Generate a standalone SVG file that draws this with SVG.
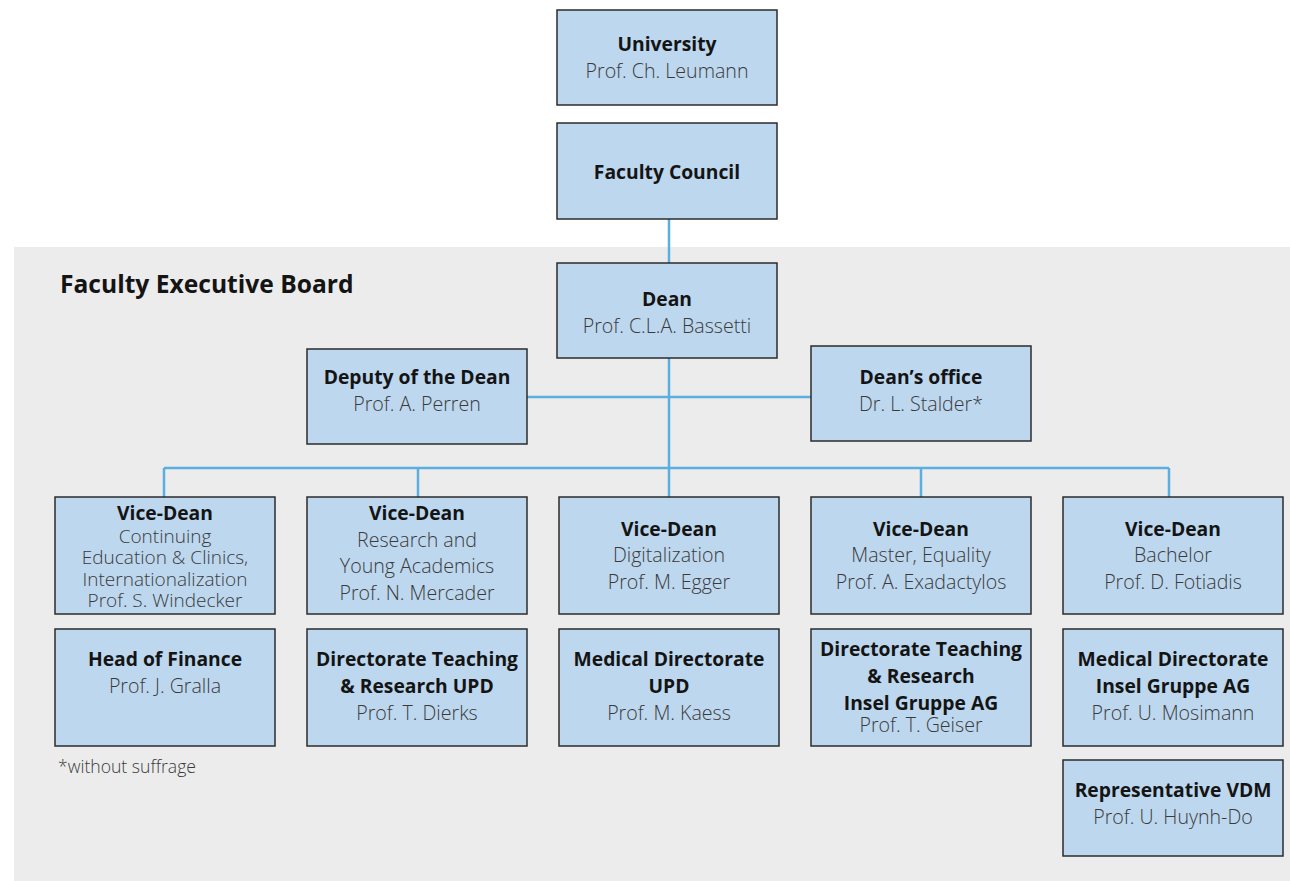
<svg xmlns="http://www.w3.org/2000/svg" width="1290" height="881" viewBox="0 0 1290 881">
<style>
.bg{fill:#ececec}
.box{fill:#bdd7ee;stroke:#2b2b2b;stroke-width:1.5}
.con{stroke:#5aaee0;stroke-width:2.5;fill:none}
text{font-family:"Open Sans","Liberation Sans",sans-serif;text-anchor:middle}
.b{font-size:19.3px;font-weight:700;fill:#141414}
.r{font-size:19.6px;font-weight:300;fill:#3a3a3a}
.t{font-size:19px}
.title{font-size:24.6px;font-weight:700;fill:#141414;text-anchor:start}
.note{font-size:17.6px;font-weight:300;fill:#3a3a3a;text-anchor:start}
</style>
<rect class="bg" x="14" y="247" width="1276" height="634"/>
<text class="title" x="60" y="293">Faculty Executive Board</text>
<g id="connectors">
<path class="con" d="M669 219V263M669 358V497M527 397H811M164 468H1169M164 468V497M418 468V497M921 468V497M1169 468V497"/>
</g>
<g id="university"><rect class="box" x="557" y="10" width="220" height="95"/><text class="b" x="667" y="51">University</text><text class="r" x="667" y="78">Prof. Ch. Leumann</text></g>
<g id="council"><rect class="box" x="557" y="123" width="220" height="96"/><text class="b" x="667" y="179">Faculty Council</text></g>
<g id="dean"><rect class="box" x="557" y="263" width="220" height="95"/><text class="b" x="667" y="306">Dean</text><text class="r" x="667" y="333">Prof. C.L.A. Bassetti</text></g>
<g id="deputy"><rect class="box" x="307" y="349" width="220" height="95"/><text class="b" x="417" y="384">Deputy of the Dean</text><text class="r" x="417" y="411">Prof. A. Perren</text></g>
<g id="deansoffice"><rect class="box" x="811" y="346" width="220" height="95"/><text class="b" x="921" y="384">Dean’s office</text><text class="r" x="921" y="411">Dr. L. Stalder*</text></g>
<g id="vd1"><rect class="box" x="55" y="497" width="220" height="117"/><text class="b" x="165" y="520">Vice-Dean</text><text class="r t" x="165" y="543">Continuing</text><text class="r t" x="165" y="564">Education &amp; Clinics,</text><text class="r t" x="165" y="586">Internationalization</text><text class="r t" x="165" y="607">Prof. S. Windecker</text></g>
<g id="vd2"><rect class="box" x="307" y="497" width="220" height="117"/><text class="b" x="417" y="520">Vice-Dean</text><text class="r" x="417" y="547">Research and</text><text class="r" x="417" y="573">Young Academics</text><text class="r" x="417" y="600">Prof. N. Mercader</text></g>
<g id="vd3"><rect class="box" x="559" y="497" width="220" height="117"/><text class="b" x="669" y="536">Vice-Dean</text><text class="r" x="669" y="562">Digitalization</text><text class="r" x="669" y="589">Prof. M. Egger</text></g>
<g id="vd4"><rect class="box" x="811" y="497" width="220" height="117"/><text class="b" x="921" y="536">Vice-Dean</text><text class="r" x="921" y="562">Master, Equality</text><text class="r" x="921" y="589">Prof. A. Exadactylos</text></g>
<g id="vd5"><rect class="box" x="1063" y="497" width="220" height="117"/><text class="b" x="1173" y="536">Vice-Dean</text><text class="r" x="1173" y="562">Bachelor</text><text class="r" x="1173" y="589">Prof. D. Fotiadis</text></g>
<g id="finance"><rect class="box" x="55" y="629" width="220" height="117"/><text class="b" x="165" y="666">Head of Finance</text><text class="r" x="165" y="693">Prof. J. Gralla</text></g>
<g id="dtr-upd"><rect class="box" x="307" y="629" width="220" height="117"/><text class="b" x="417" y="666">Directorate Teaching</text><text class="b" x="417" y="693">&amp; Research UPD</text><text class="r" x="417" y="720">Prof. T. Dierks</text></g>
<g id="md-upd"><rect class="box" x="559" y="629" width="220" height="117"/><text class="b" x="669" y="666">Medical Directorate</text><text class="b" x="669" y="693">UPD</text><text class="r" x="669" y="720">Prof. M. Kaess</text></g>
<g id="dtr-insel"><rect class="box" x="811" y="629" width="220" height="117"/><text class="b" x="921" y="656">Directorate Teaching</text><text class="b" x="921" y="683">&amp; Research</text><text class="b" x="921" y="710">Insel Gruppe AG</text><text class="r" x="921" y="732">Prof. T. Geiser</text></g>
<g id="md-insel"><rect class="box" x="1063" y="629" width="220" height="117"/><text class="b" x="1173" y="666">Medical Directorate</text><text class="b" x="1173" y="693">Insel Gruppe AG</text><text class="r" x="1173" y="720">Prof. U. Mosimann</text></g>
<g id="vdm"><rect class="box" x="1063" y="760" width="220" height="96"/><text class="b" x="1173" y="797">Representative VDM</text><text class="r" x="1173" y="824">Prof. U. Huynh-Do</text></g>
<text class="note" x="58" y="773">*without suffrage</text>
</svg>
